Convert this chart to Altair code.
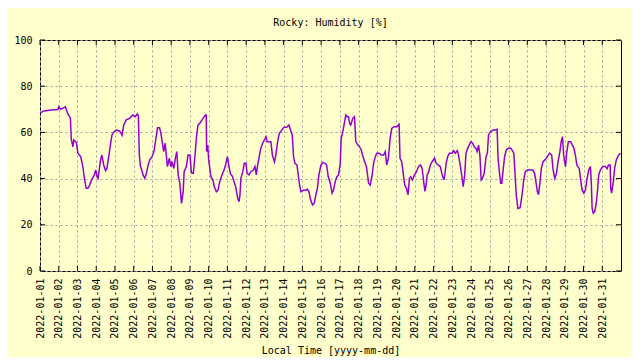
import altair as alt
import pandas as pd

# time since 2022-01-01 00:00 (days) and relative humidity (%)
day_offsets = [
    0.0, 0.2, 0.6, 0.96, 1.0, 1.1, 1.35, 1.49, 1.58, 1.62, 1.67, 1.76, 1.8, 1.94,
    2.02, 2.17, 2.29, 2.38, 2.47, 2.56, 2.65, 2.73, 2.9, 2.97, 3.05, 3.1, 3.23,
    3.3, 3.4, 3.5, 3.57, 3.68, 3.77, 3.84, 3.94, 4.06, 4.24, 4.33, 4.38, 4.47,
    4.6, 4.78, 4.95, 5.07, 5.2, 5.25, 5.27, 5.3, 5.36, 5.4, 5.5, 5.59, 5.68,
    5.77, 5.86, 5.98, 6.08, 6.16, 6.27, 6.38, 6.45, 6.52, 6.6, 6.68, 6.73, 6.8,
    6.9, 6.98, 7.04, 7.14, 7.22, 7.3, 7.37, 7.46, 7.55, 7.64, 7.69, 7.81, 7.9,
    8.0, 8.08, 8.18, 8.26, 8.35, 8.43, 8.52, 8.7, 8.83, 8.87, 8.89, 8.95, 9.0,
    9.12, 9.23, 9.3, 9.41, 9.5, 9.59, 9.71, 9.82, 9.9, 10.0, 10.07, 10.16,
    10.27, 10.35, 10.44, 10.55, 10.62, 10.67, 10.72, 10.82, 10.9, 10.99, 11.05,
    11.15, 11.25, 11.38, 11.47, 11.54, 11.6, 11.68, 11.78, 11.88, 11.97, 12.06,
    12.12, 12.32, 12.4, 12.51, 12.57, 12.68, 12.77, 12.9, 13.02, 13.16, 13.28,
    13.37, 13.46, 13.53, 13.6, 13.71, 13.78, 13.85, 13.92, 14.05, 14.17, 14.27,
    14.35, 14.44, 14.54, 14.63, 14.72, 14.8, 14.88, 14.99, 15.08, 15.2, 15.29,
    15.38, 15.49, 15.58, 15.66, 15.75, 15.84, 15.93, 16.02, 16.07, 16.16, 16.25,
    16.32, 16.39, 16.46, 16.52, 16.58, 16.69, 16.78, 16.85, 16.96, 17.05, 17.14,
    17.21, 17.32, 17.42, 17.49, 17.53, 17.62, 17.71, 17.8, 17.89, 17.97, 18.1,
    18.2, 18.33, 18.42, 18.5, 18.59, 18.68, 18.77, 18.88, 19.04, 19.16, 19.21,
    19.3, 19.39, 19.46, 19.55, 19.64, 19.71, 19.78, 19.87, 19.98, 20.09, 20.19,
    20.3, 20.39, 20.46, 20.54, 20.6, 20.66, 20.74, 20.83, 20.92, 21.05, 21.14,
    21.24, 21.36, 21.46, 21.55, 21.6, 21.67, 21.75, 21.84, 21.99, 22.07, 22.16,
    22.27, 22.33, 22.42, 22.51, 22.58, 22.66, 22.73, 22.82, 22.9, 22.99, 23.08,
    23.17, 23.26, 23.32, 23.4, 23.47, 23.54, 23.61, 23.7, 23.8, 23.87, 23.93,
    24.04, 24.17, 24.3, 24.39, 24.44, 24.51, 24.58, 24.64, 24.71, 24.79, 24.88,
    24.99, 25.12, 25.18, 25.28, 25.34, 25.41, 25.5, 25.62, 25.72, 25.8, 25.86,
    25.9, 26.0, 26.18, 26.3, 26.39, 26.46, 26.54, 26.6, 26.66, 26.75, 26.84,
    26.94, 27.07, 27.19, 27.3, 27.38, 27.47, 27.56, 27.64, 27.74, 27.81, 27.88,
    27.94, 27.99, 28.04, 28.1, 28.19, 28.32, 28.4, 28.49, 28.58, 28.64, 28.77,
    28.86, 28.93, 29.02, 29.1, 29.19, 29.28, 29.37, 29.42, 29.46, 29.52, 29.6,
    29.69, 29.76, 29.81, 29.9, 30.03, 30.17, 30.26, 30.33, 30.42, 30.45, 30.5,
    30.59, 30.66, 30.75, 30.88, 30.97,
]
humidity = [
    68.3, 69.3, 69.7, 69.9, 71.1, 70.0, 71.1, 68.0, 66.8, 66.1, 57.0, 53.8, 56.7, 55.7,
    51.0, 49.5, 45.0, 39.5, 35.8, 35.8, 37.2, 39.0, 41.6, 43.7, 40.8, 40.1, 48.0,
    50.2, 45.9, 43.4, 44.4, 50.2, 55.3, 58.9, 60.2, 61.0, 60.6, 59.6, 58.8, 63.2,
    65.4, 66.1, 67.5, 66.8, 68.0, 67.0, 59.6, 50.2, 45.2, 44.6, 41.6, 40.1, 42.3,
    45.9, 48.1, 49.5, 51.7, 56.0, 62.0, 62.0, 59.6, 56.0, 51.7, 55.3, 50.9, 45.2,
    48.8, 45.2, 47.3, 44.4, 48.8, 51.7, 41.6, 38.0, 29.3, 34.3, 43.0, 45.2, 50.2,
    50.2, 42.5, 42.3, 48.8, 58.1, 63.2, 63.9, 66.1, 67.5, 67.5, 51.7, 54.5, 48.1,
    40.8, 39.4, 36.5, 34.3, 35.0, 38.7, 41.6, 43.7, 45.9, 49.5, 45.9, 42.0,
    41.0, 38.7, 36.5, 31.5, 30.0, 33.0, 40.1, 43.0, 46.6, 46.6, 42.3,
    41.6, 43.0, 43.7, 45.2, 41.6, 45.2, 48.8, 53.1, 55.3, 56.7, 58.1,
    56.0, 56.0, 50.2, 47.3, 49.5, 56.0, 59.6, 61.0, 62.2, 62.2, 63.2,
    61.0, 58.9, 49.5, 46.6, 45.9, 41.6, 37.2, 34.3, 35.0, 35.0, 35.4,
    34.3, 30.7, 28.6, 29.3, 33.0, 35.8, 41.6, 45.9, 47.0, 46.6, 45.9,
    40.8, 38.0, 33.7, 35.0, 38.7, 40.8, 41.6, 46.6, 57.4, 60.3, 64.6,
    67.5, 66.8, 66.8, 63.9, 63.2, 66.1, 66.8, 56.0, 54.5, 53.8, 52.4,
    50.2, 47.3, 45.2, 40.8, 38.0, 37.2, 40.8, 46.6, 49.5, 51.0, 51.0,
    50.2, 50.2, 51.7, 45.9, 48.8, 57.4, 61.7, 62.5, 62.5, 63.5, 48.8,
    47.3, 41.6, 37.2, 35.8, 33.0, 40.1, 40.8, 39.4, 41.6, 43.0, 45.2,
    45.9, 44.4, 39.4, 34.5, 37.2, 41.6, 43.0, 45.9, 47.3, 48.8, 46.6,
    45.9, 45.2, 41.6, 39.4, 41.6, 46.6, 49.5, 51.0, 51.0, 52.1, 51.0,
    52.1, 50.2, 45.9, 40.8, 36.5, 41.6, 51.0, 53.1, 54.5, 56.0, 55.3,
    53.8, 53.1, 51.7, 54.5, 50.2, 39.4, 40.1, 42.3, 49.5, 51.0, 58.9,
    60.3, 61.0, 61.0, 61.4, 48.8, 43.0, 38.0, 38.0, 43.7, 49.5, 52.4,
    53.1, 53.1, 52.4, 51.0, 43.0, 33.0, 27.1, 27.4, 33.0, 38.7, 41.6,
    43.0, 43.7, 43.7, 43.7, 42.3, 38.7, 34.3, 33.0, 37.2, 44.4, 47.3,
    48.1, 49.5, 51.0, 50.2, 43.7, 40.1, 42.3, 47.3, 51.7, 56.0, 58.1,
    50.2, 47.3, 45.2, 51.0, 56.0, 56.0, 54.5, 53.1, 49.5, 45.9, 44.4,
    38.7, 35.0, 33.7, 35.0, 40.1, 43.7, 45.2, 37.2, 27.1, 25.0, 25.7,
    30.0, 35.8, 41.6, 43.7, 45.2, 45.2, 44.3, 45.9, 45.9, 35.8, 33.7,
    38.7, 44.4, 48.1, 50.2, 51.0,
]
tick_days = list(range(1, 32))          # x tick marks: 2022-01-01 .. 2022-01-31
y_ticks = [0, 20, 40, 60, 80, 100]

base = pd.Timestamp("2022-01-01")
times = [(base + pd.Timedelta(days=d)).round("min").strftime("%Y-%m-%dT%H:%M:%S")
         for d in day_offsets]
df = pd.DataFrame({"time": times, "humidity": humidity})
xt = pd.DataFrame({"time": [f"2022-01-{d:02d}T00:00:00" for d in tick_days]})
yt = pd.DataFrame({"humidity": y_ticks})

W, H = 581, 231
FONT = "DejaVu Sans Mono"
BG = "#ffffcc"

x_scale = alt.Scale(domain=[alt.DateTime(year=2022, month=1, date=1),
                            alt.DateTime(year=2022, month=2, date=1)])
y_scale = alt.Scale(domain=[0, 100], nice=False)

x_axis = alt.Axis(
    values=[alt.DateTime(year=2022, month=1, date=d) for d in tick_days],
    format="%Y-%m-%d", labelAngle=270, labelOverlap=False, labelFlush=False,
    grid=True, gridDash=[2, 3], gridColor="#a0a0a0", gridWidth=1,
    tickSize=0, domain=False, labelPadding=7,
    title="Local Time [yyyy-mm-dd]", titleY=79, titleBaseline="middle",
    labelFont=FONT, titleFont=FONT, labelFontSize=10, titleFontSize=10,
    labelColor="black", titleColor="black", titleFontWeight="normal",
)
y_axis = alt.Axis(
    values=y_ticks, grid=True, gridDash=[2, 3], gridColor="#a0a0a0", gridWidth=1,
    tickSize=0, domain=False, labelPadding=8, title=None,
    labelFont=FONT, labelFontSize=10, labelColor="black",
)

X = alt.X("time:T", scale=x_scale, axis=x_axis)
Y = alt.Y("humidity:Q", scale=y_scale, axis=y_axis)

line = alt.Chart(df).mark_line(color="#9400d3", strokeWidth=1.5).encode(x=X, y=Y)

tick_style = dict(color="black", strokeWidth=1)
bottom_ticks = alt.Chart(xt).mark_rule(**tick_style).encode(
    x=X, y=alt.value(H - 5), y2=alt.value(H))
top_ticks = alt.Chart(xt).mark_rule(**tick_style).encode(
    x=X, y=alt.value(0), y2=alt.value(5))
left_ticks = alt.Chart(yt).mark_rule(**tick_style).encode(
    y=Y, x=alt.value(0), x2=alt.value(5))
right_ticks = alt.Chart(yt).mark_rule(**tick_style).encode(
    y=Y, x=alt.value(W - 5), x2=alt.value(W))

chart = alt.layer(line, bottom_ticks, top_ticks, left_ticks, right_ticks).properties(
    width=W, height=H,
    title=alt.TitleParams("Rocky: Humidity [%]", font=FONT, fontSize=10,
                          fontWeight="normal", color="black", offset=7, anchor="middle"),
    autosize=alt.AutoSizeParams(type="none"),
    padding={"left": 32, "top": 32, "right": 11, "bottom": 86},
).configure(background=BG).configure_view(
    fill=BG, stroke="black", strokeWidth=1
)

chart.save("out.html", embed_options={"renderer": "svg", "actions": False})
